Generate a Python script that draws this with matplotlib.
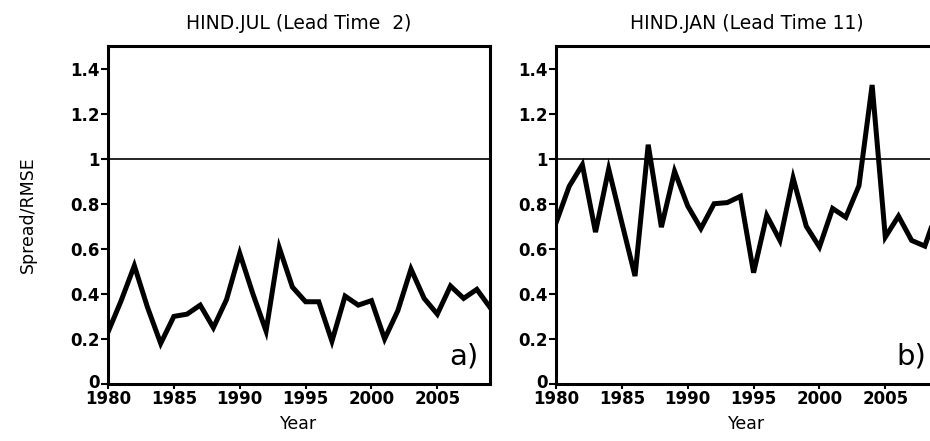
import matplotlib
matplotlib.use("Agg")
import matplotlib.pyplot as plt
import matplotlib.transforms as mtransforms
import numpy as np

# years and spread/rmse ratios
years = np.arange(1980, 2010)
jul_lead2 = [0.23, 0.37, 0.525, 0.34, 0.18, 0.30, 0.31, 0.35, 0.25, 0.375,
             0.58, 0.40, 0.235, 0.605, 0.43, 0.365, 0.365, 0.19, 0.39, 0.35,
             0.37, 0.20, 0.325, 0.51, 0.38, 0.31, 0.435, 0.38, 0.42, 0.34]
jan_lead11 = [0.715, 0.877, 0.973, 0.674, 0.954, 0.715, 0.479, 1.062, 0.696, 0.944,
              0.79, 0.69, 0.80, 0.805, 0.833, 0.494, 0.748, 0.637, 0.914, 0.70,
              0.608, 0.779, 0.74, 0.88, 1.327, 0.652, 0.745, 0.637, 0.612, 0.78]

titles = ["HIND.JUL (Lead Time  2)", "HIND.JAN (Lead Time 11)"]
tags = ["a)", "b)"]
series = [jul_lead2, jan_lead11]

W, H = 930, 441
fig = plt.figure(figsize=(W / 100, H / 100), dpi=100)

# panel boxes in pixels: left, top, right, bottom (b runs off the right edge)
boxes = [(108, 46, 490, 384), (556, 46, 938, 384)]

for i, (l, t, r, b) in enumerate(boxes):
    ax = fig.add_axes([l / W, 1 - b / H, (r - l) / W, (b - t) / H])
    ax.plot(years, series[i], color="black", lw=3.6, solid_joinstyle="miter")
    ax.axhline(1.0, color="black", lw=1.2)
    ax.set_xlim(1980, 2009)
    ax.set_ylim(0, 1.5)
    ax.set_xticks([1980, 1985, 1990, 1995, 2000, 2005])
    ax.set_yticks([0, 0.2, 0.4, 0.6, 0.8, 1.0, 1.2, 1.4])
    ax.set_yticklabels(["0", "0.2", "0.4", "0.6", "0.8", "1", "1.2", "1.4"])
    ax.tick_params(axis="y", direction="out", length=5, width=1.5, labelsize=12, pad=1)
    ax.tick_params(axis="x", direction="out", length=3.5, width=1.5, labelsize=12, pad=1)
    for lab in ax.get_xticklabels() + ax.get_yticklabels():
        lab.set_fontweight("bold")
    # lift the "0" a little so it sits above the 1980 label
    zero = ax.get_yticklabels()[0]
    zero.set_transform(zero.get_transform() +
                       mtransforms.ScaledTranslation(0, 3 / 100, fig.dpi_scale_trans))
    for sp in ax.spines.values():
        sp.set_linewidth(2.2)
    ax.set_title(titles[i], fontsize=13.5, pad=12)
    ax.set_xlabel("Year", fontsize=12.5, labelpad=5)
    ax.text(0.97, 0.04, tags[i], transform=ax.transAxes, fontsize=21,
            ha="right", va="bottom")
    if i == 0:
        ax.set_ylabel("Spread/RMSE", fontsize=12.5, labelpad=24)

fig.savefig("out.png", dpi=100)
